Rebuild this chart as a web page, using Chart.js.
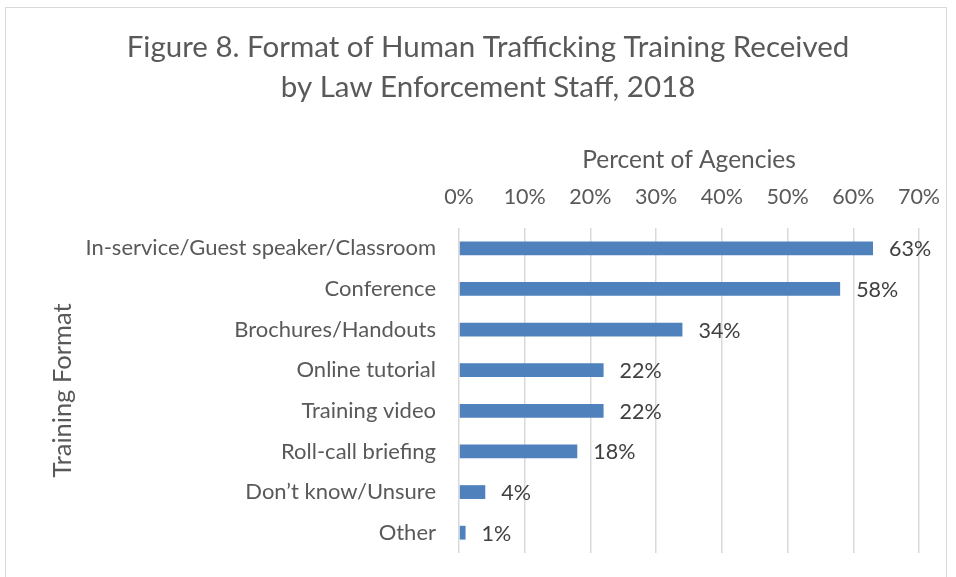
<!DOCTYPE html>
<html>
<head>
<meta charset="utf-8">
<script src="https://cdn.jsdelivr.net/npm/chart.js@4.4.1/dist/chart.umd.min.js"></script>
<style>
  html, body { margin: 0; padding: 0; background: #fff; }
  #wrap { position: relative; width: 956px; height: 577px; overflow: hidden; }
  #frame { position: absolute; left: 5px; top: 7px; width: 942px; height: 620px; border: 1px solid #d9d9d9; box-sizing: border-box; pointer-events: none; }
  canvas { position: absolute; left: 0; top: 0; }
</style>
</head>
<body>
<div id="wrap">
  <div id="frame"></div>
  <canvas id="c" width="956" height="577"></canvas>
</div>
<script>
const titleLines = ["Figure 8. Format of Human Trafficking Training Received", "by Law Enforcement Staff, 2018"];
const categories = ["In-service/Guest speaker/Classroom", "Conference", "Brochures/Handouts", "Online tutorial", "Training video", "Roll-call briefing", "Don\u2019t know/Unsure", "Other"];
const percentValues = [63, 58, 34, 22, 22, 18, 4, 1];
const xAxisTitle = "Percent of Agencies";
const yAxisTitle = "Training Format";
const xTickMax = 70;
const xTickStep = 10;

const FONT = "Lato, 'Open Sans', sans-serif";

const dataLabels = {
  id: 'dataLabels',
  afterDatasetsDraw(chart) {
    const ctx = chart.ctx;
    const meta = chart.getDatasetMeta(0);
    ctx.save();
    ctx.font = "21.5px " + FONT;
    ctx.fillStyle = "#404040";
    ctx.textAlign = "left";
    ctx.textBaseline = "middle";
    meta.data.forEach((el, i) => {
      ctx.fillText(percentValues[i] + "%", el.x + 16, el.y + 1);
    });
    ctx.restore();
  }
};

new Chart(document.getElementById('c'), {
  type: 'bar',
  data: {
    labels: categories,
    datasets: [{
      data: percentValues,
      backgroundColor: '#4f81bd',
      borderWidth: 0,
      barPercentage: 0.34,
      categoryPercentage: 1
    }]
  },
  options: {
    indexAxis: 'y',
    responsive: false,
    animation: false,
    devicePixelRatio: 1,
    layout: { padding: { left: 20, right: 0, top: 0, bottom: 24 } },
    plugins: {
      legend: { display: false },
      tooltip: { enabled: false },
      title: {
        display: true,
        text: titleLines,
        color: '#595959',
        font: { family: FONT, size: 29.5, weight: 'normal', lineHeight: 1.356 },
        padding: { top: 27, bottom: 0 }
      }
    },
    scales: {
      x: {
        position: 'top',
        min: 0,
        max: xTickMax,
        ticks: {
          stepSize: xTickStep,
          color: '#595959',
          font: { family: FONT, size: 21.5 },
          padding: 18,
          callback: v => v + '%'
        },
        grid: { color: '#d9d9d9', lineWidth: 1.5, drawTicks: false },
        border: { display: false },
        title: {
          display: true,
          text: xAxisTitle,
          color: '#595959',
          font: { family: FONT, size: 24.5 },
          padding: { top: 38, bottom: 0 }
        },
        afterFit(scale) { scale.height = 121; scale.paddingLeft = 0; scale.paddingRight = 0; }
      },
      y: {
        position: 'left',
        ticks: {
          color: '#595959',
          font: { family: FONT, size: 22 },
          padding: 23
        },
        grid: { display: false, drawTicks: false },
        border: { display: false },
        title: {
          display: true,
          text: yAxisTitle,
          color: '#595959',
          font: { family: FONT, size: 25.5 },
          padding: { top: 27, bottom: 0 }
        },
        afterFit(scale) { scale.width = 439; scale.paddingTop = 0; scale.paddingBottom = 0; }
      },
      y2: {
        position: 'right',
        display: true,
        ticks: { display: false },
        grid: { display: false, drawTicks: false },
        border: { display: false },
        afterFit(scale) { scale.width = 37; scale.paddingTop = 0; scale.paddingBottom = 0; }
      }
    }
  },
  plugins: [dataLabels]
});
</script>
</body>
</html>
